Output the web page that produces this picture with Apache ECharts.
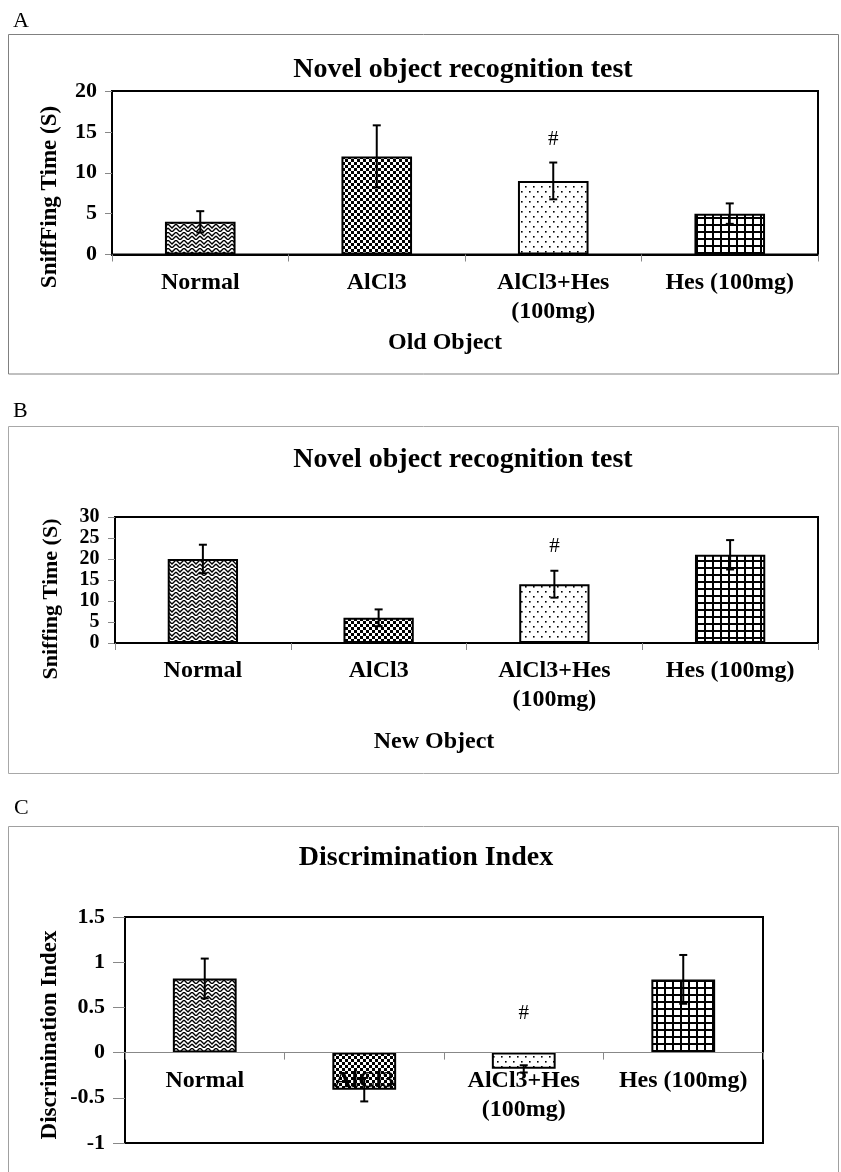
<!DOCTYPE html>
<html>
<head>
<meta charset="utf-8">
<script src="https://cdn.jsdelivr.net/npm/echarts@6/dist/echarts.min.js"></script>
<style>
html,body{margin:0;padding:0;background:#fff;}
#chart{width:841px;height:1172px;}
</style>
</head>
<body>
<div id="chart"></div>
<script>
// ---- data ----
const categories = ['Normal', 'AlCl3', 'AlCl3+Hes\n(100mg)', 'Hes (100mg)'];
const oldObjectMean = [4.0, 12.0, 9.0, 5.0];
const oldObjectErr = [1.3, 3.8, 2.25, 1.25];
const newObjectMean = [20.0, 6.0, 14.0, 21.0];
const newObjectErr = [3.4, 2.0, 3.2, 3.5];
const discIndexMean = [0.82, -0.41, -0.18, 0.81];
const discIndexErr = [0.22, 0.13, 0.04, 0.27];
const sigMarks = ['', '', '#', ''];
const ticksA = [0, 20, 5];
const ticksB = [0, 30, 5];
const ticksC = [-1, 1.5, 0.5];

// ---- patterns ----
function mk(w, h, draw) {
  const c = document.createElement('canvas');
  c.width = w; c.height = h;
  const g = c.getContext('2d');
  g.fillStyle = '#fff'; g.fillRect(0, 0, w, h);
  g.fillStyle = '#000'; g.strokeStyle = '#000';
  draw(g);
  return { image: c, repeat: 'repeat' };
}
const patZig = mk(8, 8, g => {
  g.lineWidth = 1.4;
  g.beginPath();
  g.moveTo(0, 0); g.lineTo(4, 4); g.lineTo(8, 0);
  g.moveTo(0, 4); g.lineTo(4, 8); g.lineTo(8, 4);
  g.stroke();
});
const patChk = mk(6, 6, g => {
  g.fillRect(0, 0, 3, 3); g.fillRect(3, 3, 3, 3);
});
const patDot = mk(8, 10, g => {
  g.fillRect(1, 1, 1.6, 1.6); g.fillRect(5, 6, 1.6, 1.6);
});
const patGrid = mk(8, 7, g => {
  g.fillRect(0, 0, 2, 7); g.fillRect(0, 0, 8, 2);
});
const patterns = [patZig, patChk, patDot, patGrid];

const FONT = '"Liberation Serif", "Times New Roman", serif';

function barSeries(idx, means) {
  return {
    type: 'bar', xAxisIndex: idx, yAxisIndex: idx, barWidth: '40%',
    data: means.map((v, i) => ({ value: v, itemStyle: { color: patterns[i] } })),
    itemStyle: { borderColor: '#000', borderWidth: 2 },
    emphasis: { disabled: true }, z: 2
  };
}
function errSeries(idx, means, errs, hashOffset) {
  return {
    type: 'custom', xAxisIndex: idx, yAxisIndex: idx, z: 10,
    data: means.map((m, i) => [i, m, errs[i]]),
    renderItem: (params, api) => {
      const i = api.value(0), m = api.value(1), e = api.value(2);
      const hi = api.coord([i, m + e]), lo = api.coord([i, m - e]);
      const cw = 4, st = { stroke: '#000', lineWidth: 2 };
      const ch = [
        { type: 'line', shape: { x1: hi[0], y1: hi[1], x2: lo[0], y2: lo[1] }, style: st },
        { type: 'line', shape: { x1: hi[0] - cw, y1: hi[1], x2: hi[0] + cw, y2: hi[1] }, style: st },
        { type: 'line', shape: { x1: lo[0] - cw, y1: lo[1], x2: lo[0] + cw, y2: lo[1] }, style: st }
      ];
      const s = sigMarks[params.dataIndex];
      if (s) {
        const t = api.coord([i, Math.max(m + e, 0)]);
        ch.push({ type: 'text', x: t[0], y: t[1] - hashOffset,
          style: { text: s, font: '21px ' + FONT, align: 'center', verticalAlign: 'middle', fill: '#000' } });
      }
      return { type: 'group', children: ch };
    }
  };
}
function xAx(idx, zeroLine, margin, offset) {
  return {
    type: 'category', gridIndex: idx, data: categories, offset: offset || 0,
    axisLine: { onZero: false, lineStyle: { color: zeroLine ? '#888' : '#000', width: zeroLine ? 1 : 2 } },
    axisTick: { show: true, length: 7, lineStyle: { color: '#888' } },
    axisLabel: { interval: 0, margin: margin, color: '#000', fontFamily: FONT, fontWeight: 'bold', fontSize: 24, lineHeight: 29 },
    z: 5
  };
}
function yAx(idx, t, margin, tickLen, fs) {
  return {
    type: 'value', gridIndex: idx, min: t[0], max: t[1], interval: t[2],
    axisLine: { show: true, lineStyle: { color: '#000', width: 2 } },
    axisTick: { show: true, length: tickLen, lineStyle: { color: '#888' } },
    splitLine: { show: false },
    axisLabel: { margin: margin, color: '#000', fontFamily: FONT, fontWeight: 'bold', fontSize: fs,
      showMinLabel: true, showMaxLabel: true, hideOverlap: false }
  };
}
function txt(x, y, text, font, rot, align) {
  return { type: 'text', x: x, y: y, rotation: rot || 0, z: 100,
    style: { text: text, font: font, align: align || 'center', verticalAlign: 'middle', fill: '#000' } };
}
function box(x, y, w, h, color) {
  return { type: 'rect', shape: { x: x, y: y, width: w, height: h }, z: -10,
    style: { fill: null, stroke: color, lineWidth: 1 } };
}

const gridC = { left: 125, top: 917, width: 638, height: 226 };
// shift the C category axis up to the value 0
const zeroOffsetC = -gridC.height * (0 - ticksC[0]) / (ticksC[1] - ticksC[0]);

const chart = echarts.init(document.getElementById('chart'), null, { renderer: 'canvas' });
chart.setOption({
  animation: false,
  backgroundColor: '#fff',
  grid: [
    { left: 112, top: 91, width: 706, height: 163.5, show: true, borderColor: '#000', borderWidth: 2, outerBoundsMode: 'none', containLabel: false },
    { left: 115, top: 517, width: 703, height: 126, show: true, borderColor: '#000', borderWidth: 2, outerBoundsMode: 'none', containLabel: false },
    Object.assign({ show: true, borderColor: '#000', borderWidth: 2, outerBoundsMode: 'none', containLabel: false }, gridC)
  ],
  xAxis: [xAx(0, false, 14), xAx(1, false, 13.5), xAx(2, true, 13.5, zeroOffsetC)],
  yAxis: [yAx(0, ticksA, 15, 7, 22), yAx(1, ticksB, 15.5, 7, 20), yAx(2, ticksC, 20, 12, 22)],
  series: [
    barSeries(0, oldObjectMean), errSeries(0, oldObjectMean, oldObjectErr, 23),
    barSeries(1, newObjectMean), errSeries(1, newObjectMean, newObjectErr, 24),
    barSeries(2, discIndexMean), errSeries(2, discIndexMean, discIndexErr, 39)
  ],
  graphic: [
    box(8.5, 34.5, 830, 339.5, '#808080'),
    box(8.5, 426.5, 830, 347, '#a8a8a8'),
    box(8.5, 826.5, 830, 360, '#a0a0a0'),
    txt(13, 21, 'A', '22px ' + FONT, 0, 'left'),
    txt(13, 411, 'B', '22px ' + FONT, 0, 'left'),
    txt(14, 808, 'C', '22px ' + FONT, 0, 'left'),
    txt(463, 70, 'Novel object recognition test', 'bold 28px ' + FONT),
    txt(463, 460, 'Novel object recognition test', 'bold 28px ' + FONT),
    txt(426, 858, 'Discrimination Index', 'bold 28px ' + FONT),
    txt(50, 197, 'SniffFing Time (S)', 'bold 23px ' + FONT, Math.PI / 2),
    txt(51, 599, 'Sniffing Time (S)', 'bold 22px ' + FONT, Math.PI / 2),
    txt(50, 1035, 'Discrimination Index', 'bold 23px ' + FONT, Math.PI / 2),
    txt(445, 343, 'Old Object', 'bold 24px ' + FONT),
    txt(434, 742, 'New Object', 'bold 24px ' + FONT)
  ]
});
</script>
</body>
</html>
